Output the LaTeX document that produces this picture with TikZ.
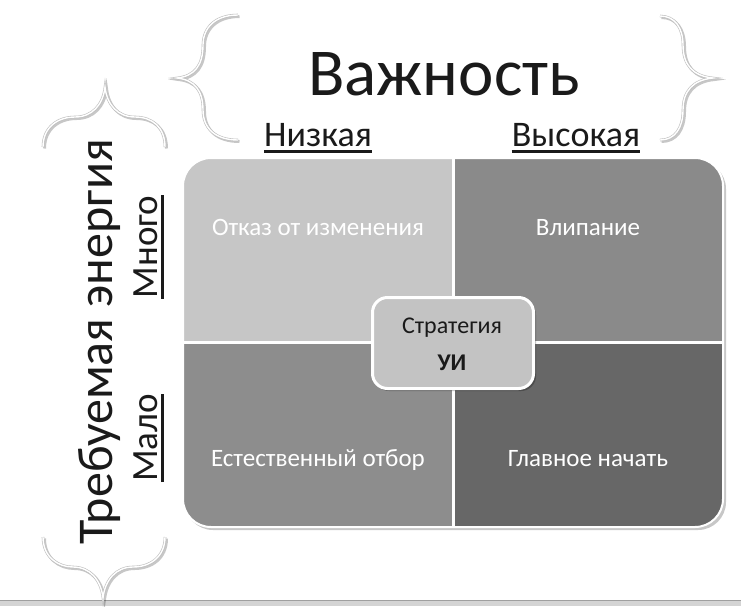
\documentclass[tikz,border=0pt]{standalone}
\usepackage{fontspec}
\setmainfont{Carlito}
\definecolor{qTL}{HTML}{C6C6C6}
\definecolor{qTR}{HTML}{8A8A8A}
\definecolor{qBL}{HTML}{8D8D8D}
\definecolor{qBR}{HTML}{676767}
\definecolor{ctrfill}{HTML}{C3C3C3}
\definecolor{txt}{HTML}{1A1A1A}
\definecolor{band}{HTML}{D4D4D4}
\begin{document}
\begin{tikzpicture}[x=1pt,y=-1pt,
  qlabel/.style={text=white, font=\fontsize{25}{25}\selectfont, anchor=base, inner sep=0pt},
  sublabel/.style={text=txt, font=\fontsize{36}{36}\selectfont, anchor=base, inner sep=0pt},
  vlabel/.style={text=txt, font=\fontsize{37}{37}\selectfont, anchor=base, inner sep=0pt},
  uline/.style={txt, line width=3pt},
  bracesh/.style={black, opacity=0.22, line width=3pt},
  braceout/.style={gray!50, line width=2.6pt},
  bracein/.style={white, line width=1.4pt}]
\useasboundingbox (0,0) rectangle (741,606);
\fill[white] (0,0) rectangle (741,606);
% bottom band
\fill[band] (0,600) rectangle (741,606);
\draw[gray!75, line width=1pt] (0,600.5) -- (741,600.5);

% braces
\def\braceTL{(238,15) .. controls (215,15) and (203,28) .. (203,45) .. controls (203,65) and (195,76) .. (177,78) .. controls (195,80) and (203,91) .. (203,110) .. controls (203,128) and (215,140) .. (238,140)}
\def\braceTR{(660,16) .. controls (675,16) and (683,28) .. (683,45) .. controls (683,65) and (693,76) .. (713,78) .. controls (693,80) and (683,91) .. (683,110) .. controls (683,128) and (675,140) .. (660,140)}
\def\braceLT{(43,147) .. controls (43,127) and (58,117) .. (75,117) .. controls (92,117) and (103,105) .. (105,87) .. controls (107,105) and (118,117) .. (135,117) .. controls (152,117) and (165,127) .. (165,147)}
\def\braceLB{(43,537) .. controls (43,557) and (58,567) .. (73,567) .. controls (90,567) and (101,580) .. (103,598) .. controls (105,580) and (116,567) .. (133,567) .. controls (150,567) and (165,557) .. (165,537)}
\foreach \b in {\braceTL,\braceTR,\braceLT,\braceLB}{
  \draw[bracesh, shift={(1.5,1.5)}] \b;
  \draw[braceout] \b;
  \draw[bracein] \b;
}

% matrix shadow
\fill[black, opacity=0.22, rounded corners=28pt] (185,161) rectangle (726,530);
\begin{scope}
  \clip[rounded corners=28pt] (183,158) rectangle (723,527);
  \fill[qTL] (183,158) rectangle (453,342);
  \fill[qTR] (453,158) rectangle (723,342);
  \fill[qBL] (183,342) rectangle (453,527);
  \fill[qBR] (453,342) rectangle (723,527);
  \draw[white, line width=3pt] (453,158) -- (453,527);
  \draw[white, line width=3pt] (183,342) -- (723,342);
\end{scope}
\draw[white, line width=2pt, rounded corners=28pt] (183,158) rectangle (723,527);

% quadrant labels
\node[qlabel] (qtl) at (318,235) {Отказ от изменения};
\node[qlabel] (qtr) at (588,235) {Влипание};
\node[qlabel] (qbl) at (318,466) {Естественный отбор};
\node[qlabel] (qbr) at (588,466) {Главное начать};

% centre box
\fill[black, opacity=0.25, rounded corners=15pt] (374,300) rectangle (536,391);
\node[draw=white, line width=3pt, fill=ctrfill, rounded corners=15pt, minimum width=161pt, minimum height=91pt, inner sep=0pt] (centre) at (453,343) {};
\node[text=txt, font=\fontsize{24}{24}\selectfont, anchor=base, inner sep=0pt] (c1) at (452,333) {Стратегия};
\node[text=txt, font=\fontsize{24}{24}\selectfont\bfseries, anchor=base, inner sep=0pt] (c2) at (452,370) {УИ};

% title
\node[text=txt, font=\fontsize{67}{67}\selectfont, anchor=base, inner sep=0pt] (title) at (444,95) {Важность};

% column headings
\node[sublabel] (low) at (318,146) {Низкая};
\node[sublabel] (high) at (576,146) {Высокая};
\draw[uline] ([yshift=-5pt]low.base west) -- ([yshift=-5pt]low.base east);
\draw[uline] ([yshift=-5pt]high.base west) -- ([yshift=-5pt]high.base east);

% vertical axis
\node[rotate=90, text=txt, font=\fontsize{50}{50}\selectfont, anchor=base, inner sep=0pt] (axis) at (112,342) {Требуемая энергия};
\node[rotate=90, vlabel] (many) at (157,247) {Много};
\node[rotate=90, vlabel] (few) at (157,438) {Мало};
\draw[uline] ([xshift=5pt]many.base west) -- ([xshift=5pt]many.base east);
\draw[uline] ([xshift=5pt]few.base west) -- ([xshift=5pt]few.base east);
\end{tikzpicture}
\end{document}
